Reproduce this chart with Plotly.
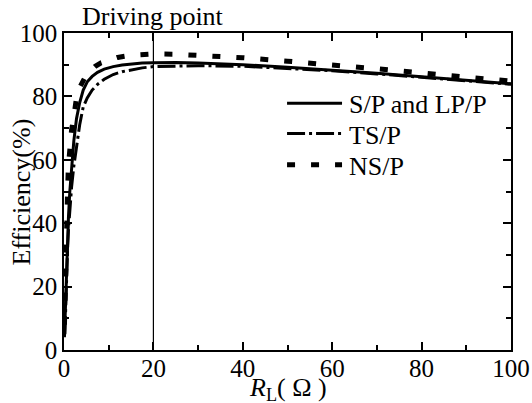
import plotly.graph_objects as go

# Load resistance (Ohm) and efficiency (%)
rl_sp = [0.1, 0.2, 0.4, 0.6, 0.8, 1.0, 1.3, 1.7, 2.2, 2.8, 3.5, 4.3, 5.2, 6.3, 7.5, 9, 11, 13, 15, 17.5,
         20, 25, 30, 40, 50, 60, 70, 80, 90, 100]
eff_sp = [4, 9, 20, 29, 36, 42, 50, 58, 66, 73, 78, 82, 84.6, 86.3, 87.6, 88.6, 89.4, 89.9, 90.2, 90.5,
          90.6, 90.7, 90.5, 90.0, 89.2, 88.3, 87.3, 86.2, 85.1, 84.0]

rl_ts = [0.2, 0.4, 0.6, 0.8, 1.0, 1.3, 1.7, 2.2, 2.8, 3.5, 4.3, 5.2, 6.3, 7.5, 9, 11, 13, 15, 17.5,
         20, 25, 30, 40, 50, 60, 70, 80, 90, 100]
eff_ts = [5, 16, 25, 32, 38, 45, 51.5, 58, 64, 71, 76.7, 79.5, 82, 83.8, 85.4, 86.9, 87.8, 88.4, 89.0,
          89.4, 89.6, 89.7, 89.5, 88.9, 88.1, 87.1, 86.0, 84.9, 83.8]

rl_ns = [0.1, 0.2, 0.3, 0.45, 0.6, 0.8, 0.97, 1.15, 1.34, 1.7, 2.1, 2.5, 2.84, 3.4, 4.0, 4.7, 5.4, 6.2, 7.0, 8.3,
         9.9, 12, 15, 20, 25, 30, 40, 50, 60, 70, 80, 90, 100]
eff_ns = [8, 17, 25, 34, 41, 50, 57.8, 62, 65, 69.5, 72.6, 77, 80, 82.5, 84.5, 86, 87.3, 88.5, 89.5, 90.6,
          91.5, 92.3, 93.0, 93.4, 93.3, 93.0, 92.2, 91.1, 90.0, 88.7, 87.4, 86.1, 84.8]

names = ["S/P and LP/P", "TS/P", "NS/P"]

x_ticks = [0, 20, 40, 60, 80, 100]
y_ticks = [0, 20, 40, 60, 80, 100]
driving_point = 20

FONT = "Liberation Serif"

styles = [
    dict(color="black", width=3),
    dict(color="black", width=3, dash="18px,4px,3px,4px"),
    dict(color="black", width=5, dash="8px,16px"),
]

fig = go.Figure()
for xs, ys, nm, st in zip([rl_sp, rl_ts, rl_ns], [eff_sp, eff_ts, eff_ns], names, styles):
    fig.add_trace(go.Scatter(x=xs, y=ys, mode="lines", name=nm, line=st, showlegend=False))

fig.add_shape(type="line", xref="x", yref="paper", x0=driving_point, x1=driving_point, y0=0, y1=1,
              line=dict(color="black", width=1.2), layer="below")

fig.add_annotation(text="Driving point", xref="x", yref="paper", x=driving_point, y=1.052,
                   xanchor="center", yanchor="middle", showarrow=False,
                   font=dict(family=FONT, size=26, color="black"))
fig.add_annotation(text="Efficiency(%)", xref="paper", yref="paper", x=-0.094, y=0.5,
                   xanchor="center", yanchor="middle", textangle=-90, showarrow=False,
                   font=dict(family=FONT, size=26, color="black"))
fig.add_annotation(text="<i>R</i><sub>L</sub>( \u03a9 )", xref="paper", yref="paper",
                   x=0.5, y=-0.123, xanchor="center", yanchor="middle", showarrow=False,
                   font=dict(family=FONT, size=26, color="black"))

# legend drawn as samples + text inside the plot area
leg_line_y = [0.778, 0.683, 0.584]
leg_text_y = [0.776, 0.678, 0.578]
for nm, st, ly, ty in zip(names, styles, leg_line_y, leg_text_y):
    fig.add_shape(type="line", xref="paper", yref="paper", x0=0.499, x1=0.622, y0=ly, y1=ly,
                  line=st)
    fig.add_annotation(text=nm, xref="paper", yref="paper", x=0.632, y=ty,
                       xanchor="left", yanchor="middle", showarrow=False,
                       font=dict(family=FONT, size=26, color="black"))

axis_common = dict(showline=True, linecolor="black", linewidth=1.5, mirror="ticks",
                   ticks="inside", ticklen=8, tickwidth=1.5, tickcolor="black",
                   showgrid=False, zeroline=False,
                   tickfont=dict(family=FONT, size=25, color="black"))

fig.update_xaxes(range=[0, 100], tickvals=x_ticks, ticktext=[str(v) for v in x_ticks],
                 ticklabelstandoff=-5,
                 minor=dict(ticks="inside", dtick=10, ticklen=5, tickwidth=1.5, tickcolor="black"),
                 **axis_common)
fig.update_yaxes(range=[0, 100], tickvals=y_ticks, ticktext=[str(v) for v in y_ticks],
                 minor=dict(ticks="inside", dtick=10, ticklen=5, tickwidth=1.5, tickcolor="black"),
                 **axis_common)

fig.update_layout(
    width=532, height=403,
    margin=dict(l=64, r=21, t=33, b=53, autoexpand=False),
    paper_bgcolor="white", plot_bgcolor="white",
    showlegend=False,
    font=dict(family=FONT, color="black"),
)

fig.write_html("out.html", post_script="document.body.style.margin='0';",
               config={"displayModeBar": False})
